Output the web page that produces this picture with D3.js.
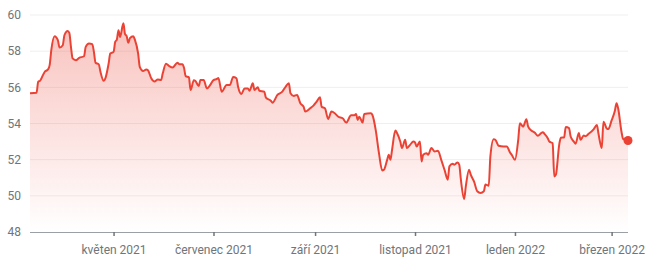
<!DOCTYPE html>
<html>
<head>
<meta charset="utf-8">
<script src="https://cdn.jsdelivr.net/npm/d3@7"></script>
<style>
  body { margin: 0; background: #fff; }
  text { font-family: Roboto, "Noto Sans", sans-serif; }
</style>
</head>
<body>
<div id="chart"></div>
<script>
// dates and values
const dates = [
  "2021-03-11","2021-03-15","2021-03-16","2021-03-17","2021-03-20","2021-03-22","2021-03-23","2021-03-24","2021-03-26","2021-03-28",
  "2021-03-29","2021-03-31","2021-04-01","2021-04-03","2021-04-04","2021-04-05","2021-04-06","2021-04-08","2021-04-10","2021-04-13",
  "2021-04-14","2021-04-16","2021-04-18","2021-04-19","2021-04-20","2021-04-22","2021-04-23","2021-04-25","2021-04-26","2021-04-28",
  "2021-04-29","2021-05-01","2021-05-02","2021-05-03","2021-05-04","2021-05-05","2021-05-07","2021-05-08","2021-05-09","2021-05-10",
  "2021-05-11","2021-05-13","2021-05-14","2021-05-16","2021-05-17","2021-05-19","2021-05-21","2021-05-22","2021-05-24","2021-05-26",
  "2021-05-28","2021-05-30","2021-05-31","2021-06-02","2021-06-04","2021-06-06","2021-06-09","2021-06-10","2021-06-12","2021-06-13",
  "2021-06-14","2021-06-16","2021-06-17","2021-06-19","2021-06-20","2021-06-22","2021-06-23","2021-06-25","2021-06-27","2021-06-29",
  "2021-07-01","2021-07-03","2021-07-04","2021-07-06","2021-07-09","2021-07-11","2021-07-13","2021-07-15","2021-07-16","2021-07-18",
  "2021-07-20","2021-07-22","2021-07-23","2021-07-25","2021-07-26","2021-07-28","2021-07-29","2021-08-01","2021-08-02","2021-08-05",
  "2021-08-06","2021-08-09","2021-08-12","2021-08-14","2021-08-16","2021-08-17","2021-08-19","2021-08-21","2021-08-23","2021-08-25",
  "2021-08-26","2021-08-29","2021-08-31","2021-09-02","2021-09-04","2021-09-05","2021-09-07","2021-09-09","2021-09-11","2021-09-13",
  "2021-09-15","2021-09-18","2021-09-20","2021-09-23","2021-09-25","2021-09-26","2021-09-27","2021-09-28","2021-09-30","2021-10-01",
  "2021-10-05","2021-10-06","2021-10-08","2021-10-10","2021-10-12","2021-10-13","2021-10-15","2021-10-16","2021-10-17","2021-10-18",
  "2021-10-20","2021-10-21","2021-10-23","2021-10-24","2021-10-26","2021-10-27","2021-10-29","2021-10-31","2021-11-01","2021-11-02",
  "2021-11-04","2021-11-05","2021-11-06","2021-11-08","2021-11-09","2021-11-11","2021-11-13","2021-11-15","2021-11-17","2021-11-19",
  "2021-11-21","2021-11-22","2021-11-24","2021-11-25","2021-11-27","2021-11-28","2021-11-29","2021-12-01","2021-12-02","2021-12-04",
  "2021-12-05","2021-12-07","2021-12-09","2021-12-11","2021-12-13","2021-12-14","2021-12-16","2021-12-17","2021-12-19","2021-12-20",
  "2021-12-22","2021-12-25","2021-12-27","2021-12-29","2021-12-30","2022-01-01","2022-01-03","2022-01-04","2022-01-06","2022-01-08",
  "2022-01-09","2022-01-11","2022-01-13","2022-01-15","2022-01-17","2022-01-18","2022-01-19","2022-01-21","2022-01-22","2022-01-24",
  "2022-01-25","2022-01-26","2022-01-28","2022-01-29","2022-01-31","2022-02-01","2022-02-03","2022-02-04","2022-02-06","2022-02-07",
  "2022-02-09","2022-02-10","2022-02-12","2022-02-13","2022-02-15","2022-02-18","2022-02-20","2022-02-21","2022-02-23","2022-02-24",
  "2022-02-26","2022-02-27","2022-03-01","2022-03-03","2022-03-04","2022-03-05","2022-03-07","2022-03-08","2022-03-09","2022-03-11"
];
const values = [
  55.67,55.70,56.31,56.35,56.86,56.99,57.23,58.06,58.83,58.61,
  58.20,58.33,58.88,59.12,59.01,58.24,57.60,57.50,57.63,57.72,
  58.24,58.42,58.39,57.96,57.36,57.27,56.86,56.36,56.50,57.32,
  57.87,57.96,58.51,58.64,59.16,58.79,59.54,58.94,58.83,58.46,
  58.72,58.83,58.64,57.87,57.13,56.90,56.99,56.95,56.50,56.32,
  56.44,56.40,56.76,57.31,57.17,57.09,57.36,57.28,57.28,57.08,
  56.62,56.55,55.85,56.39,56.35,56.07,56.40,56.40,55.94,56.13,
  56.40,56.46,56.51,55.76,56.13,56.13,56.57,56.50,56.03,55.63,
  55.94,55.94,55.81,56.22,55.85,56.00,55.81,55.76,55.43,55.26,
  55.15,55.58,55.76,56.03,56.22,55.67,55.52,55.58,55.12,54.93,
  54.66,54.84,54.99,55.21,55.45,54.93,54.84,54.25,54.66,54.57,
  54.39,54.28,54.05,54.45,54.45,54.53,54.20,54.38,54.05,54.53,
  54.57,54.47,53.65,52.36,51.40,51.44,51.99,52.27,51.99,52.55,
  53.61,53.47,53.00,52.64,53.10,52.64,52.82,53.00,52.95,52.73,
  53.00,51.90,52.27,52.36,52.27,52.64,52.45,52.49,51.99,51.44,
  50.89,51.63,51.77,51.72,51.85,51.72,50.89,49.83,50.52,51.44,
  51.17,50.80,50.25,50.16,50.25,50.62,50.56,52.18,53.13,53.10,
  52.77,52.73,52.73,52.40,52.27,51.99,53.10,54.02,53.83,54.24,
  53.84,53.61,53.50,53.32,53.47,53.52,53.43,53.19,53.00,52.91,
  51.07,51.17,52.82,53.21,53.23,53.80,53.74,53.28,52.99,52.88,
  53.48,53.10,53.33,53.30,53.43,53.68,53.92,53.43,52.64,54.10,
  53.73,53.69,54.17,54.71,55.12,54.83,53.56,53.15,53.12,53.06
];
const yTicks = [48, 50, 52, 54, 56, 58, 60];
const xTicks = ["2021-05-01","2021-07-01","2021-09-01","2021-11-01","2022-01-01","2022-03-01"];
const monthNames = ["leden","únor","březen","duben","květen","červen","červenec","srpen","září","říjen","listopad","prosinec"];

const parse = d3.timeParse("%Y-%m-%d");
const data = dates.map((d, i) => ({ date: parse(d), value: values[i] }));

const W = 650, H = 262;
const padL = 30, padR = 628, padT = 15, padB = 232;

const svg = d3.select("#chart").append("svg")
  .attr("width", W)
  .attr("height", H);

const x = d3.scaleTime()
  .domain([parse("2021-03-11"), parse("2022-03-11")])
  .range([padL, padR]);

const y = d3.scaleLinear()
  .domain([48, 60])
  .range([padB, padT]);

// gradient for the area under the line
const grad = svg.append("defs").append("linearGradient")
  .attr("id", "fade")
  .attr("gradientUnits", "userSpaceOnUse")
  .attr("x1", 0).attr("y1", y(59.5))
  .attr("x2", 0).attr("y2", y(48));
grad.append("stop").attr("offset", "0%").attr("stop-color", "#ea4335").attr("stop-opacity", 0.32);
grad.append("stop").attr("offset", "100%").attr("stop-color", "#ea4335").attr("stop-opacity", 0.0);

// horizontal grid
svg.append("g")
  .selectAll("line")
  .data(yTicks.filter(t => t > 48))
  .join("line")
  .attr("x1", padL).attr("x2", padR)
  .attr("y1", d => y(d)).attr("y2", d => y(d))
  .attr("stroke", "#efefef")
  .attr("stroke-width", 1);

// y labels
svg.append("g")
  .selectAll("text")
  .data(yTicks)
  .join("text")
  .attr("x", 21)
  .attr("y", d => y(d))
  .attr("dy", "0.35em")
  .attr("text-anchor", "end")
  .style("font-size", "12px")
  .style("fill", "#70757a")
  .text(d => d);

// area + line
svg.append("path")
  .datum(data)
  .attr("fill", "url(#fade)")
  .attr("d", d3.area()
    .x(d => x(d.date))
    .y0(padB)
    .y1(d => y(d.value))
    .curve(d3.curveMonotoneX));

svg.append("path")
  .datum(data)
  .attr("fill", "none")
  .attr("stroke", "#ea4335")
  .attr("stroke-width", 2)
  .attr("stroke-linejoin", "round")
  .attr("d", d3.line()
    .x(d => x(d.date))
    .y(d => y(d.value))
    .curve(d3.curveMonotoneX));

const last = data[data.length - 1];
svg.append("circle")
  .attr("cx", x(last.date))
  .attr("cy", y(last.value))
  .attr("r", 4.5)
  .attr("fill", "#ea4335");

// x axis
const xAxis = svg.append("g")
  .attr("transform", `translate(0, ${padB})`)
  .call(d3.axisBottom(x)
    .tickValues(xTicks.map(parse))
    .tickSize(4)
    .tickPadding(9)
    .tickFormat(d => monthNames[d.getMonth()] + " " + d.getFullYear()));
xAxis.select(".domain")
  .attr("d", `M${padL},0.5H${padR}`)
  .attr("stroke", "#9aa0a6");
xAxis.selectAll(".tick line").attr("stroke", "#70757a").attr("stroke-width", 1.5);
xAxis.selectAll(".tick text")
  .style("font-size", "12px")
  .style("fill", "#70757a")
  .style("font-family", "Roboto, sans-serif");
</script>
</body>
</html>
